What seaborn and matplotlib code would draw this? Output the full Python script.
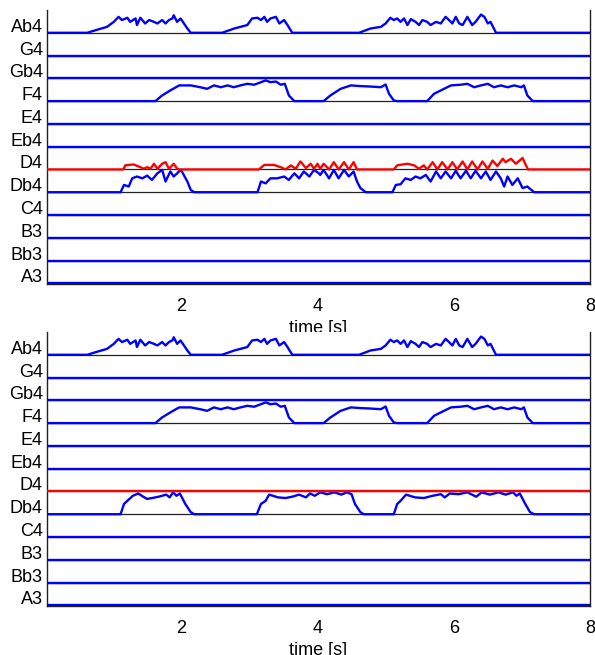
import numpy as np
import matplotlib
matplotlib.use('Agg')
import matplotlib.pyplot as plt
import seaborn as sns

# note rows, bottom to top
notes = ['A3', 'Bb3', 'B3', 'C4', 'Db4', 'D4', 'Eb4', 'E4', 'F4', 'Gb4', 'G4', 'Ab4']
xticks = [2, 4, 6, 8]

# envelopes: (time [s], amplitude in row units)
ab4 = [(0.0, 0), (0.62, 0), (0.75, 0.12), (0.91, 0.26), (1.01, 0.48), (1.08, 0.70), (1.13, 0.56),
       (1.21, 0.66), (1.25, 0.48), (1.33, 0.63), (1.35, 0.34), (1.40, 0.66), (1.47, 0.41), (1.53, 0.56),
       (1.60, 0.48), (1.65, 0.41), (1.72, 0.56), (1.77, 0.41), (1.82, 0.56), (1.87, 0.63), (1.89, 0.77),
       (1.94, 0.48), (1.99, 0.63), (2.04, 0.41), (2.09, 0.19), (2.14, 0),
       (2.60, 0), (2.78, 0.19), (2.97, 0.34), (3.04, 0.63), (3.12, 0.66), (3.17, 0.56), (3.22, 0.70),
       (3.26, 0.48), (3.31, 0.63), (3.39, 0.70), (3.44, 0.41), (3.51, 0.56), (3.56, 0.34), (3.63, 0),
       (4.61, 0), (4.78, 0.19), (4.93, 0.26), (5.00, 0.41), (5.07, 0.66), (5.12, 0.56), (5.17, 0.63),
       (5.22, 0.48), (5.27, 0.63), (5.32, 0.34), (5.37, 0.60), (5.44, 0.48), (5.49, 0.34), (5.54, 0.56),
       (5.61, 0.48), (5.66, 0.34), (5.74, 0.48), (5.81, 0.41), (5.88, 0.70), (5.93, 0.56), (5.98, 0.41),
       (6.03, 0.70), (6.08, 0.41), (6.13, 0.34), (6.20, 0.70), (6.27, 0.34), (6.32, 0.48), (6.40, 0.80),
       (6.45, 0.70), (6.50, 0.41), (6.54, 0.48), (6.62, 0), (8.0, 0)]

f4 = [(0.0, 0), (1.62, 0), (1.72, 0.25), (1.84, 0.47), (1.97, 0.69), (2.14, 0.69), (2.28, 0.61),
      (2.38, 0.54), (2.48, 0.69), (2.58, 0.61), (2.68, 0.69), (2.77, 0.61), (2.87, 0.69), (2.97, 0.76),
      (3.07, 0.72), (3.17, 0.83), (3.24, 0.91), (3.31, 0.83), (3.39, 0.86), (3.46, 0.72), (3.52, 0.76),
      (3.58, 0.25), (3.66, 0),
      (4.09, 0), (4.19, 0.25), (4.34, 0.54), (4.49, 0.69), (4.63, 0.66), (4.78, 0.64), (4.93, 0.61),
      (5.00, 0.73), (5.05, 0.32), (5.12, 0.03), (5.17, 0),
      (5.61, 0), (5.71, 0.32), (5.81, 0.47), (5.96, 0.69), (6.10, 0.72), (6.20, 0.76), (6.30, 0.61),
      (6.40, 0.69), (6.50, 0.76), (6.59, 0.61), (6.69, 0.69), (6.79, 0.61), (6.89, 0.69), (6.99, 0.61),
      (7.03, 0.69), (7.08, 0.25), (7.16, 0), (8.0, 0)]

d4 = [(0.0, 0), (1.15, 0), (1.18, 0.18), (1.30, 0.22), (1.40, 0.10), (1.45, 0.03), (1.50, 0.10),
      (1.55, 0.03), (1.60, 0.25), (1.65, 0.03), (1.72, 0.25), (1.77, 0.32), (1.82, 0.03), (1.89, 0.25),
      (1.94, 0.03), (1.97, 0),
      (3.14, 0), (3.22, 0.20), (3.36, 0.20), (3.46, 0.10), (3.53, 0), (3.61, 0.18), (3.68, 0.03),
      (3.75, 0.35), (3.83, 0.06), (3.90, 0.25), (3.95, 0.03), (4.00, 0.25), (4.04, 0.03), (4.09, 0.25),
      (4.17, 0), (4.24, 0.32), (4.31, 0), (4.39, 0.32), (4.46, 0), (4.53, 0.32), (4.58, 0),
      (5.12, 0), (5.17, 0.18), (5.32, 0.25), (5.42, 0.18), (5.49, 0.03), (5.56, 0.18), (5.61, 0),
      (5.69, 0.32), (5.76, 0), (5.83, 0.32), (5.91, 0), (5.98, 0.32), (6.05, 0), (6.13, 0.35),
      (6.20, 0), (6.27, 0.35), (6.35, 0), (6.42, 0.35), (6.50, 0.03), (6.57, 0.39), (6.64, 0.15),
      (6.72, 0.47), (6.76, 0.32), (6.84, 0.47), (6.91, 0.25), (7.01, 0.50), (7.06, 0.18), (7.09, 0),
      (8.0, 0)]

db4 = [(0.0, 0), (1.11, 0), (1.16, 0.32), (1.23, 0.25), (1.28, 0.61), (1.35, 0.69), (1.43, 0.61),
       (1.50, 0.73), (1.57, 0.54), (1.65, 0.83), (1.72, 0.98), (1.77, 0.47), (1.84, 0.91), (1.89, 0.69),
       (1.94, 0.83), (1.99, 0.98), (2.01, 0.91), (2.09, 0.47), (2.14, 0.10), (2.19, 0),
       (3.12, 0), (3.17, 0.47), (3.24, 0.39), (3.31, 0.61), (3.41, 0.61), (3.51, 0.69), (3.58, 0.54),
       (3.66, 0.83), (3.73, 0.61), (3.80, 0.91), (3.88, 0.69), (3.95, 0.98), (4.02, 0.83), (4.04, 0.76),
       (4.09, 0.98), (4.17, 0.61), (4.24, 0.98), (4.31, 0.61), (4.39, 0.98), (4.46, 0.69), (4.53, 0.91),
       (4.58, 0.47), (4.63, 0.18), (4.71, 0),
       (5.10, 0), (5.15, 0.32), (5.22, 0.35), (5.29, 0.61), (5.37, 0.54), (5.44, 0.69), (5.51, 0.61),
       (5.59, 0.76), (5.66, 0.47), (5.74, 0.91), (5.81, 0.61), (5.88, 0.91), (5.96, 0.61), (6.03, 0.94),
       (6.10, 0.61), (6.18, 0.94), (6.25, 0.61), (6.32, 0.94), (6.40, 0.61), (6.47, 0.91), (6.54, 0.54),
       (6.62, 0.91), (6.69, 0.61), (6.74, 0.25), (6.79, 0.69), (6.86, 0.32), (6.94, 0.61), (7.01, 0.18),
       (7.08, 0.25), (7.18, 0), (8.0, 0)]

# second panel: Db4 after correction (D4 removed)
db4_fixed = [(0.0, 0), (1.11, 0), (1.16, 0.45), (1.21, 0.59), (1.29, 0.81), (1.37, 0.91), (1.42, 0.81),
             (1.50, 0.67), (1.57, 0.71), (1.67, 0.77), (1.78, 0.86), (1.83, 0.74), (1.88, 0.96),
             (1.93, 0.81), (1.98, 0.91), (2.06, 0.45), (2.14, 0.09), (2.19, 0),
             (3.11, 0), (3.17, 0.45), (3.24, 0.59), (3.29, 0.86), (3.42, 0.74), (3.53, 0.71), (3.63, 0.77),
             (3.73, 0.86), (3.83, 0.74), (3.89, 0.91), (3.96, 0.81), (4.04, 0.96), (4.14, 0.88),
             (4.25, 0.96), (4.35, 0.86), (4.43, 0.96), (4.50, 0.88), (4.55, 0.45), (4.63, 0.09), (4.68, 0),
             (5.12, 0), (5.17, 0.45), (5.22, 0.59), (5.30, 0.86), (5.43, 0.74), (5.56, 0.71), (5.69, 0.81),
             (5.81, 0.88), (5.87, 0.74), (5.94, 0.91), (6.07, 0.88), (6.20, 0.96), (6.33, 0.77),
             (6.41, 0.96), (6.53, 0.86), (6.66, 0.96), (6.76, 0.86), (6.87, 0.96), (6.92, 0.81),
             (6.97, 0.91), (7.05, 0.45), (7.12, 0.09), (7.18, 0), (8.0, 0)]

silent = [(0.0, 0), (8.0, 0)]

panels = [
    {'Ab4': ab4, 'F4': f4, 'D4': d4, 'Db4': db4},
    {'Ab4': ab4, 'F4': f4, 'D4': silent, 'Db4': db4_fixed},
]

sns.set_style('white')
plt.rcParams['font.family'] = ['Liberation Sans', 'DejaVu Sans']
plt.rcParams['text.color'] = 'black'
plt.rcParams['axes.labelcolor'] = 'black'
plt.rcParams['xtick.color'] = 'black'
plt.rcParams['ytick.color'] = 'black'

fig = plt.figure(figsize=(5.95, 6.55), dpi=100)
boxes = [[0.079, 0.5664, 0.9126, 0.4183], [0.079, 0.0748, 0.9126, 0.4183]]

for box, curves in zip(boxes, panels):
    ax = fig.add_axes(box)
    for i, note in enumerate(notes):
        ax.axhline(i, color='#222222', lw=0.9, zorder=1)
        env = np.array(curves.get(note, silent), dtype=float)
        col = '#ff0000' if note == 'D4' else '#0000ff'
        sns.lineplot(x=env[:, 0], y=i + env[:, 1], color=col, lw=1.7,
                     estimator=None, sort=False, ax=ax, zorder=3)
    ax.set_xlim(0.03, 8)
    ax.set_ylim(-0.03, 12)
    ax.set_yticks(np.arange(len(notes)) + 0.33)
    ax.set_yticklabels(notes)
    ax.set_xticks(xticks)
    ax.tick_params(axis='y', length=0, pad=3, labelsize=13)
    ax.tick_params(axis='x', length=0, pad=10, labelsize=13)
    ax.set_xlabel('time [s]', fontsize=13, labelpad=4)
    ax.set_ylabel('')
    sns.despine(ax=ax, top=True, right=False)
    for s in ['left', 'right', 'bottom']:
        ax.spines[s].set_color('#222222')
        ax.spines[s].set_linewidth(1.0)

fig.savefig('out.png', dpi=100)
